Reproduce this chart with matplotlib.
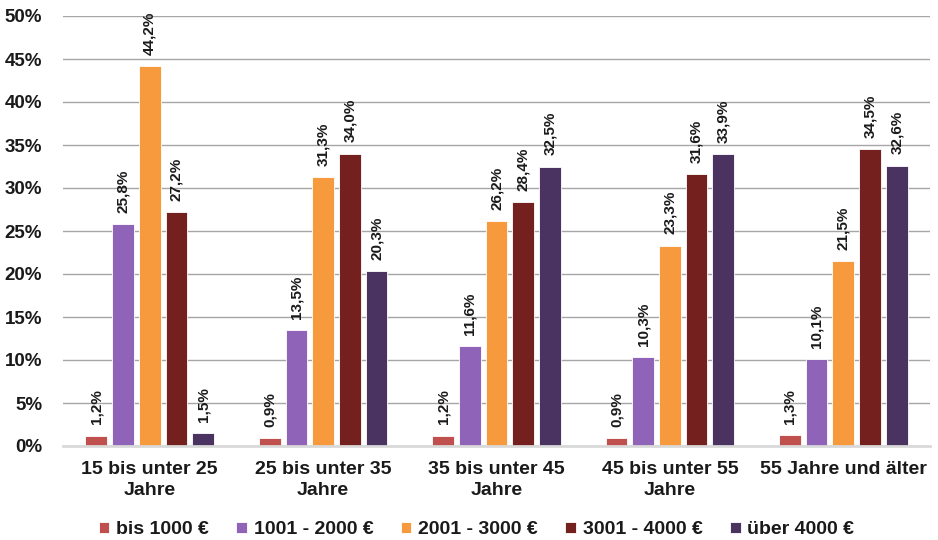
import matplotlib.pyplot as plt
import numpy as np

plt.rcParams['font.family'] = ['Liberation Sans', 'DejaVu Sans']
plt.rcParams['font.weight'] = 'bold'

groups = ["15 bis unter 25\nJahre", "25 bis unter 35\nJahre", "35 bis unter 45\nJahre",
          "45 bis unter 55\nJahre", "55 Jahre und älter"]
series = ["bis 1000 €", "1001 - 2000 €", "2001 - 3000 €", "3001 - 4000 €", "über 4000 €"]
values = [
    [1.2, 0.9, 1.2, 0.9, 1.3],
    [25.8, 13.5, 11.6, 10.3, 10.1],
    [44.2, 31.3, 26.2, 23.3, 21.5],
    [27.2, 34.0, 28.4, 31.6, 34.5],
    [1.5, 20.3, 32.5, 33.9, 32.6],
]
colors = ["#C0504D", "#8E63B8", "#F79A3E", "#74201F", "#4A3360"]

fig = plt.figure(figsize=(9.38, 5.4), dpi=100)
ax = fig.add_axes([63 / 938, 1 - 446 / 540, 867 / 938, 430 / 540])

x = np.arange(len(groups))
step = 0.154
width = 0.125
for i, (name, vals, c) in enumerate(zip(series, values, colors)):
    pos = x + (i - 2) * step
    ax.bar(pos, vals, width, color=c, edgecolor='white', linewidth=0.6, label=name, zorder=3)
    for p, v in zip(pos, vals):
        ax.text(p, v + 1.3, f"{v:.1f}%".replace('.', ','), rotation=90, ha='center', va='bottom',
                fontsize=11, fontweight='bold', color='#1a1a1a')

ax.set_xlim(-0.5, len(groups) - 0.5)
ax.set_ylim(0, 50)
ax.set_yticks(np.arange(0, 51, 5))
ax.set_yticklabels([f"{t}%" for t in range(0, 51, 5)], fontsize=13.5, fontweight='bold', color='#1a1a1a')
ax.set_xticks(x)
ax.set_xticklabels(groups, fontsize=14, fontweight='bold', color='#1a1a1a', linespacing=1.3)
ax.tick_params(axis='both', length=0)
ax.tick_params(axis='y', pad=15)
ax.tick_params(axis='x', pad=11)
ax.grid(axis='y', color='#a6a6a6', linewidth=1.0, zorder=0)
for s in ['top', 'right', 'left']:
    ax.spines[s].set_visible(False)
ax.spines['bottom'].set_color('#d9d9d9')
ax.spines['bottom'].set_linewidth(2)
ax.spines['bottom'].set_zorder(4)

leg = fig.legend(loc='center', bbox_to_anchor=(0.508, 1 - 530 / 540), ncol=5, frameon=False,
                 prop={'size': 14, 'weight': 'bold'}, handlelength=0.55, handleheight=0.55,
                 handletextpad=0.35, columnspacing=1.4)
for t in leg.get_texts():
    t.set_color('#1a1a1a')

fig.savefig("out.png", dpi=100)
